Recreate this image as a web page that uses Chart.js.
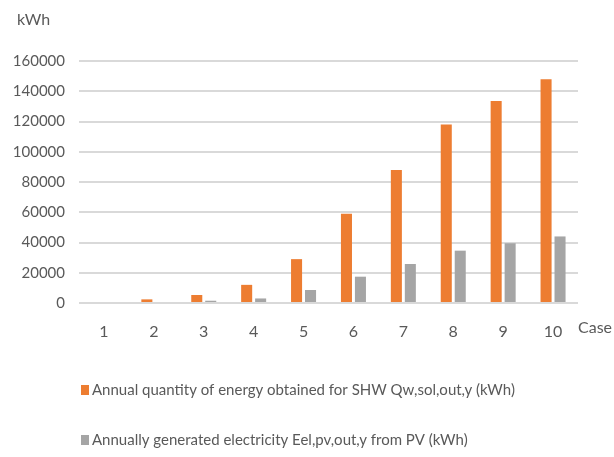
<!DOCTYPE html>
<html>
<head>
<meta charset="utf-8">
<script src="https://cdn.jsdelivr.net/npm/chart.js@4"></script>
<style>
  body { margin: 0; background: #fff; }
  #wrap { width: 614px; height: 457px; }
</style>
</head>
<body>
<div id="wrap"><canvas id="chart"></canvas></div>
<script>
var cases = ["1", "2", "3", "4", "5", "6", "7", "8", "9", "10"];
var shwEnergy = [0, 2400, 5300, 12000, 29000, 59000, 88000, 118000, 133500, 148000];
var pvElectricity = [0, 0, 1500, 3000, 8600, 17400, 25800, 34600, 39500, 44000];
var shwLabel = "Annual quantity of energy obtained for SHW Qw,sol,out,y (kWh)";
var pvLabel = "Annually generated electricity Eel,pv,out,y from PV (kWh)";
var unitLabel = "kWh";
var axisLabel = "Case";

var textFont = "Lato, 'Liberation Sans', sans-serif";
var textColor = "#595959";

// unit, "Case" label and legend drawn by hand, Excel style
var extras = {
  id: "extras",
  afterDraw: function(chart) {
    var ctx = chart.ctx;
    var area = chart.chartArea;
    ctx.save();
    ctx.fillStyle = textColor;
    ctx.font = "16px " + textFont;
    ctx.textBaseline = "middle";
    ctx.textAlign = "left";
    ctx.fillText(unitLabel, 17, area.top - 41);
    ctx.fillText(axisLabel, area.right + 0, area.bottom + 25);

    ctx.font = "15px " + textFont;
    chart.data.datasets.forEach(function(ds, i) {
      var y = area.bottom + 87 + i * 50;
      ctx.fillStyle = ds.backgroundColor;
      ctx.fillRect(area.left + 2, y - 5, 8, 10);
      ctx.fillStyle = textColor;
      ctx.fillText(ds.label, area.left + 13, y);
    });
    ctx.restore();
  }
};

var ctx = document.getElementById("chart").getContext("2d");
var chart = new Chart(ctx, {
  type: "bar",
  data: {
    labels: cases,
    datasets: [{
      label: shwLabel,
      data: shwEnergy,
      backgroundColor: "#ED7D31",
      categoryPercentage: 0.56,
      barPercentage: 0.79
    }, {
      label: pvLabel,
      data: pvElectricity,
      backgroundColor: "#A5A5A5",
      categoryPercentage: 0.56,
      barPercentage: 0.79
    }]
  },
  options: {
    responsive: true,
    maintainAspectRatio: false,
    animation: false,
    layout: { padding: { left: 0, right: 36, top: 61, bottom: 0 } },
    plugins: {
      legend: { display: false },
      tooltip: { enabled: false },
      title: { display: false }
    },
    scales: {
      x: {
        grid: { display: false },
        border: { display: false },
        ticks: {
          color: textColor,
          font: { family: textFont, size: 16 },
          padding: 11,
          maxRotation: 0
        },
        afterFit: function(scale) { scale.height = 154; }
      },
      y: {
        min: 0,
        max: 160000,
        ticks: {
          stepSize: 20000,
          color: textColor,
          font: { family: textFont, size: 15 },
          padding: 14,
          callback: function(v) { return String(v); }
        },
        grid: { color: "#D9D9D9", lineWidth: 2, drawTicks: false },
        border: { display: false },
        afterFit: function(scale) { scale.width = 79; }
      }
    }
  },
  plugins: [extras]
});
</script>
</body>
</html>
